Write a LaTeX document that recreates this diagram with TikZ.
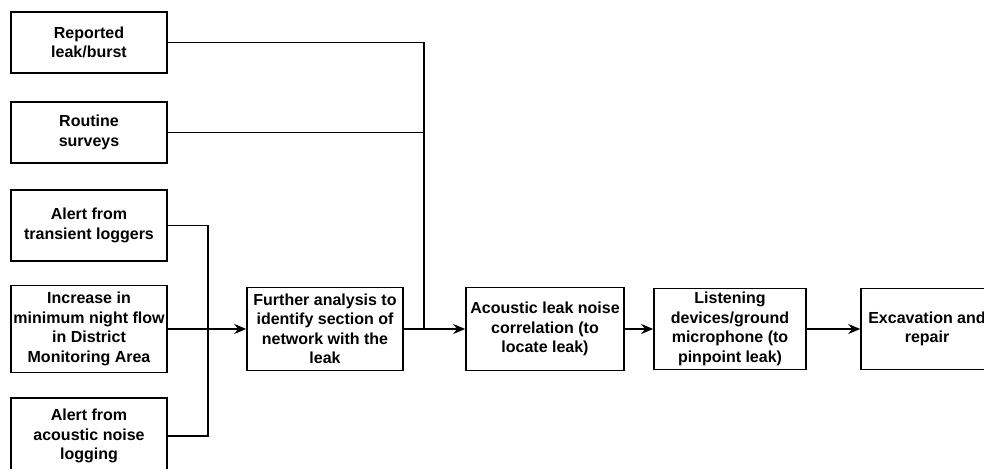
\documentclass[tikz,border=0pt]{standalone}
\usepackage{fontspec}
\setmainfont{Liberation Sans}
\usepackage{tikz}
\usetikzlibrary{arrows.meta, positioning}

\begin{document}
\begin{tikzpicture}[
  x=1pt, y=-1pt,
  >={Stealth[length=12pt, width=10pt]},
  flow/.style={line width=1.6pt},
  stepbox/.style={draw, line width=1.6pt, align=center, inner sep=0pt,
    font=\fontsize{16}{19.5}\selectfont\bfseries}
]
\useasboundingbox (0,0) rectangle (984,468);

% Triggers on the left
\node[stepbox, minimum width=156pt, minimum height=61pt] (reported) at (89, 42.5) {Reported\\leak/burst};
\node[stepbox, minimum width=156pt, minimum height=61pt] (routine) at (89, 132.5) {Routine\\surveys};
\node[stepbox, minimum width=156pt, minimum height=71pt] (transient) at (89, 225.5) {Alert from\\transient loggers};
\node[stepbox, minimum width=156pt, minimum height=87pt] (nightflow) at (89, 329) {Increase in\\minimum night flow\\in District\\Monitoring Area};
\node[stepbox, minimum width=156pt, minimum height=76pt] (noiselog) at (89, 436) {Alert from\\acoustic noise\\logging};

% Main chain
\node[stepbox, minimum width=156pt, minimum height=83pt] (further) at (325, 329) {Further analysis to\\identify section of\\network with the\\leak};
\node[stepbox, minimum width=158pt, minimum height=83pt] (correl) at (545, 329) {Acoustic leak noise\\correlation (to\\locate leak)};
\node[stepbox, minimum width=152pt, minimum height=81pt] (listen) at (730, 329) {Listening\\devices/ground\\microphone (to\\pinpoint leak)};
\node[stepbox, minimum width=132pt, minimum height=81pt] (repair) at (927, 329) {Excavation and\\repair};

% Junctions
\coordinate (jleft) at (208, 329);
\coordinate (jright) at (424, 329);

% Connectors
\draw[flow] (transient.east) -| (jleft);
\draw[flow] (noiselog.east) -| (jleft);
\draw[flow, ->] (nightflow) -- (further);
\draw[flow] (reported.east) -| (jright);
\draw[flow] (routine.east) -| (jright);
\draw[flow, ->] (further) -- (correl);
\draw[flow, ->] (correl) -- (listen);
\draw[flow, ->] (listen) -- (repair);

\end{tikzpicture}
\end{document}
